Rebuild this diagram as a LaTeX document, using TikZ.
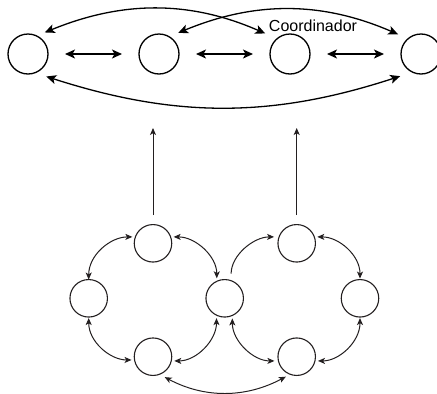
\documentclass[tikz,border=0pt]{standalone}
\usepackage{fontspec}
\setmainfont{Liberation Sans}
\usetikzlibrary{positioning,arrows.meta}
\definecolor{ink}{HTML}{231f20}

\begin{document}
\begin{tikzpicture}[
    x=1pt, y=1pt,
    topnode/.style = {circle, draw=black, line width=1.3pt, minimum size=40pt, inner sep=0pt, outer sep=0pt},
    botnode/.style = {circle, draw=ink, line width=1.1pt, minimum size=37.5pt, inner sep=0pt, outer sep=0pt},
    bigarr/.style = {draw=black, line width=1.3pt, >={Stealth[length=10pt,width=9pt,inset=2.5pt]}},
    smallarr/.style = {draw=ink, line width=1pt, >={Stealth[length=7pt,width=6pt,inset=1.8pt]}},
    lbl/.style = {inner sep=0pt, font=\fontsize{16}{19}\selectfont},
]
    \useasboundingbox (0,0) rectangle (437,-394);

    % top ring
    \node[topnode] (n1) at (28,-54) {};
    \node[topnode, right=91pt of n1] (n2) {};
    \node[topnode, right=91pt of n2] (n3) {};
    \node[topnode, right=91pt of n3] (n4) {};
    \node[lbl, above=2pt of n3, xshift=23pt] (coord) {Coordinador};

    \draw[bigarr, <->, shorten >=17pt, shorten <=17pt] (n1) -- (n2);
    \draw[bigarr, <->, shorten >=17pt, shorten <=17pt] (n2) -- (n3);
    \draw[bigarr, <->, shorten >=17pt, shorten <=17pt] (n3) -- (n4);
    \draw[bigarr, <->, shorten <=9pt, shorten >=13pt] (n1.65) to[bend left=23] (n3.130);
    \draw[bigarr, <->, shorten <=10pt, shorten >=11pt] (n2.60) to[bend left=23] (n4.130);
    \draw[bigarr, <->, shorten <=12pt, shorten >=13pt] (n1.-70) to[bend right=18] (n4.245);

    % bottom rings
    \node[botnode] (btl) at (153,-243.3) {};
    \node[botnode] (bl) at (88.7,-298.3) {};
    \node[botnode] (bbl) at (153,-356.7) {};
    \node[botnode] (bm) at (224.7,-298.3) {};
    \node[botnode] (btr) at (296.7,-243.3) {};
    \node[botnode] (br) at (360,-298.3) {};
    \node[botnode] (bbr) at (296.7,-356.7) {};

    \draw[smallarr, <->, shorten >=3pt] (bl.north) to[out=90, in=180] (btl.160);
    \draw[smallarr, <->, shorten <=3pt, shorten >=3pt] (btl.20) to[out=0, in=90] (bm.115);
    \draw[smallarr, ->, shorten <=7pt, shorten >=5pt] (bm.70) to[out=90, in=180] (btr.160);
    \draw[smallarr, <->, shorten <=3pt, shorten >=1pt] (btr.20) to[out=0, in=90] (br.north);
    \draw[smallarr, <->, shorten <=1pt, shorten >=3pt] (bl.south) to[out=-90, in=180] (bbl.190);
    \draw[smallarr, <->, shorten <=3pt, shorten >=3pt] (bbl.-13) to[out=0, in=-90] (bm.244);
    \draw[smallarr, <->, shorten <=3pt, shorten >=4pt] (bm.-66) to[out=-90, in=180] (bbr.193);
    \draw[smallarr, <->, shorten <=1pt, shorten >=3pt] (br.south) to[out=-90, in=0] (bbr.-13);
    \draw[smallarr, <->, shorten <=6pt, shorten >=5pt] (bbl.-70) to[bend right=28] (bbr.250);

    % links up
    \coordinate (up1) at (153,-128);
    \coordinate (up2) at (296.7,-128);
    \draw[smallarr, ->, shorten <=9.5pt] (btl) -- (up1);
    \draw[smallarr, ->, shorten <=9.5pt] (btr) -- (up2);

\end{tikzpicture}
\end{document}
